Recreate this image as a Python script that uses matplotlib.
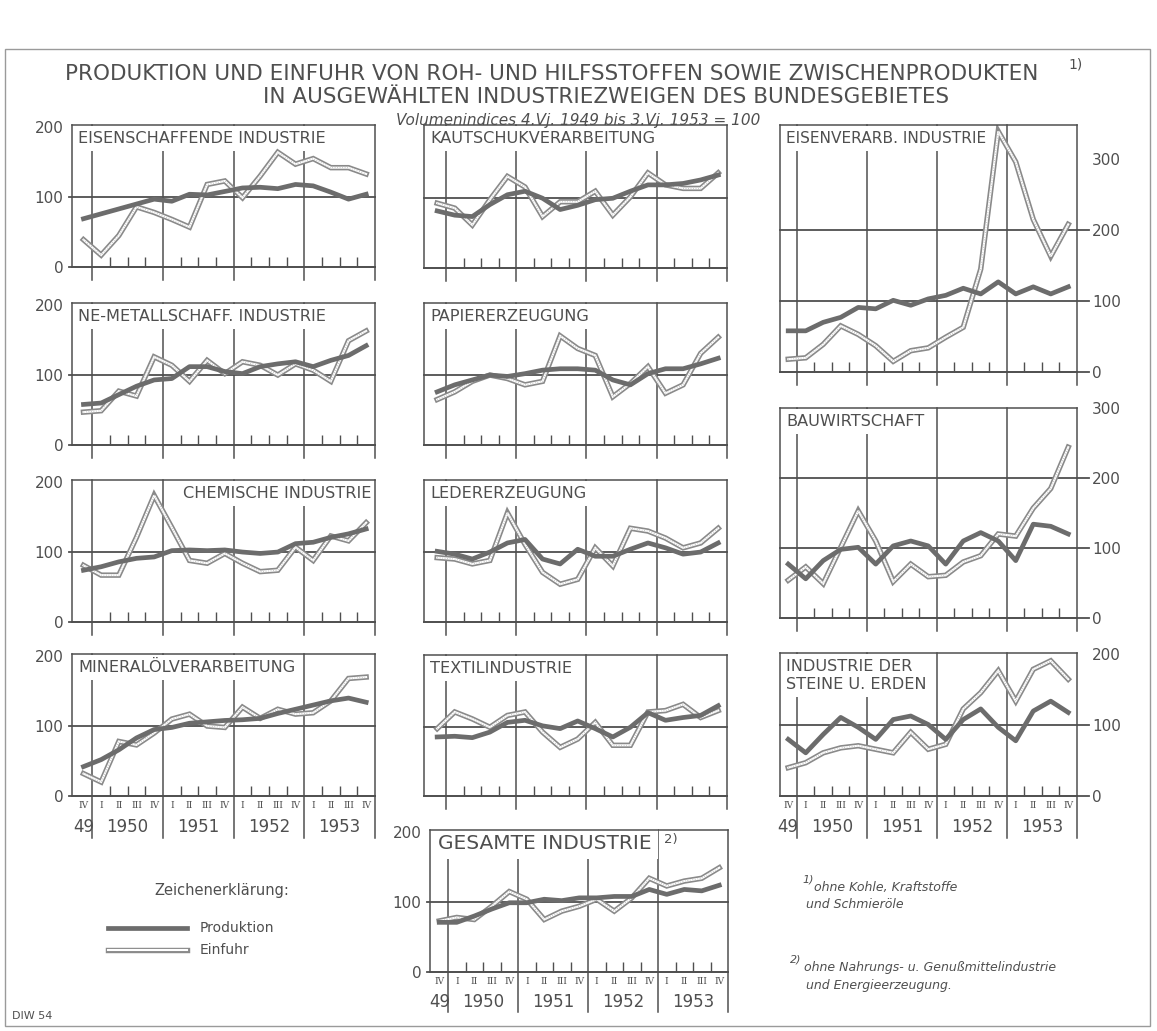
import matplotlib
matplotlib.use("Agg")
import matplotlib.pyplot as plt
import matplotlib.transforms as mtransforms
from matplotlib.lines import Line2D
from matplotlib.patches import Rectangle

W, H = 1157, 1031
INK = "#4f4f4f"
PROD_C = "#6c6c6c"
IMP_C = "#8a8a8a"

# quarters IV/1949 ... IV/1953
quarters = ["IV"] + ["I", "II", "III", "IV"] * 4
years = ["49", "1950", "1951", "1952", "1953"]
year_pos = [0, 2.5, 6.5, 10.5, 14.5]

### values (index 4.Vj.1949-3.Vj.1953 = 100) ###
eisensch_prod = [69, 76, 83, 90, 97, 94, 104, 103, 108, 113, 114, 112, 118, 116, 107, 97, 104]
eisensch_imp = [39, 17, 45, 86, 78, 68, 57, 118, 123, 99, 130, 164, 147, 155, 142, 142, 133]
kaut_prod = [81, 75, 73, 90, 104, 109, 99, 83, 89, 97, 99, 109, 118, 118, 120, 125, 132]
kaut_imp = [92, 85, 61, 97, 130, 115, 73, 94, 94, 109, 75, 101, 135, 118, 113, 113, 135]
eisenv_prod = [58, 58, 70, 77, 91, 89, 101, 94, 103, 108, 118, 110, 127, 110, 120, 110, 120]
eisenv_imp = [18, 20, 39, 65, 53, 37, 15, 30, 34, 49, 63, 145, 339, 296, 215, 163, 208]
ne_prod = [58, 60, 72, 84, 93, 95, 112, 112, 105, 102, 112, 116, 119, 112, 121, 128, 142]
ne_imp = [47, 49, 77, 70, 126, 114, 91, 121, 102, 119, 114, 100, 116, 107, 91, 149, 163]
papier_prod = [76, 86, 93, 100, 98, 102, 107, 109, 109, 107, 93, 86, 102, 109, 109, 116, 124]
papier_imp = [65, 76, 91, 100, 95, 86, 91, 156, 138, 128, 69, 88, 112, 74, 86, 131, 154]
bau_prod = [77, 56, 82, 98, 101, 77, 103, 110, 103, 77, 110, 122, 110, 82, 134, 131, 120]
bau_imp = [54, 73, 49, 101, 153, 110, 52, 77, 59, 61, 80, 89, 120, 117, 157, 185, 244]
chem_prod = [74, 79, 86, 91, 93, 102, 103, 102, 103, 100, 98, 100, 112, 114, 121, 126, 133]
chem_imp = [81, 67, 67, 121, 181, 135, 88, 84, 98, 84, 72, 74, 107, 88, 123, 116, 142]
leder_prod = [101, 97, 90, 100, 113, 118, 90, 83, 104, 94, 94, 104, 113, 106, 97, 100, 113]
leder_imp = [92, 90, 83, 88, 156, 111, 71, 54, 61, 106, 80, 134, 130, 120, 106, 113, 134]
mineral_prod = [42, 52, 66, 83, 95, 98, 104, 106, 108, 109, 111, 118, 124, 130, 136, 140, 134]
mineral_imp = [32, 20, 78, 73, 90, 110, 117, 100, 98, 127, 111, 124, 117, 119, 136, 168, 170]
textil_prod = [85, 86, 84, 92, 106, 109, 101, 97, 108, 97, 85, 99, 120, 109, 113, 116, 130]
textil_imp = [97, 121, 111, 99, 116, 121, 92, 70, 82, 106, 73, 73, 121, 123, 132, 113, 123]
steine_prod = [80, 61, 87, 111, 97, 80, 108, 113, 101, 80, 108, 123, 97, 78, 120, 134, 118]
steine_imp = [40, 47, 61, 68, 71, 66, 61, 90, 66, 73, 123, 146, 177, 134, 179, 191, 165]
gesamt_prod = [71, 71, 80, 90, 99, 99, 104, 102, 106, 106, 108, 108, 118, 111, 118, 116, 124]
gesamt_imp = [73, 78, 75, 94, 115, 104, 75, 87, 94, 104, 87, 106, 134, 123, 130, 134, 149]

plt.rcParams["font.family"] = ["DejaVu Sans"]
fig = plt.figure(figsize=(W / 100, H / 100), dpi=100)
fig.patch.set_facecolor("white")


def T(x, y, s, **kw):
    kw.setdefault("color", INK)
    return fig.text(x / W, 1 - y / H, s, **kw)


def panel(px, ytop, prod, imp, title, ticks=None, side="left", grid=(100,),
          xl=-0.65, below=13, bottom_labels=False, title_kw=None, qoff=10, yoff=31):
    x0, y0, x1, y1 = px
    ax = fig.add_axes([x0 / W, 1 - y1 / H, (x1 - x0) / W, (y1 - y0) / H])
    ax.set_facecolor("none")
    ax.set_xlim(xl, 16.5)
    ax.set_ylim(0, ytop)
    for s in ax.spines.values():
        s.set_color(INK)
        s.set_linewidth(1.1)
        s.set_zorder(6)
    # small quarter ticks
    qb = [k + 0.5 for k in range(1, 16) if k % 4 != 0]
    ax.set_xticks(qb)
    ax.tick_params(axis="x", direction="in", length=7, width=1, color=INK,
                   labelbottom=False)
    if ticks:
        ax.set_yticks(ticks)
        ax.set_yticklabels([str(t) for t in ticks])
        if side == "right":
            ax.yaxis.tick_right()
            ax.tick_params(axis="y", length=0, pad=11, labelsize=11, labelcolor=INK)
        else:
            ax.tick_params(axis="y", length=0, pad=6, labelsize=11, labelcolor=INK)
    else:
        ax.set_yticks([])
    w = x1 - x0
    hgt = y1 - y0
    tr = mtransforms.blended_transform_factory(ax.transAxes, ax.transData)
    lext = 3 / w if side == "left" else 0
    rext = 12 / w if side == "right" else 0
    for g in list(grid) + [0]:
        ax.plot([-lext, 1 + rext], [g, g], transform=tr, color=INK, lw=1.3,
                clip_on=False, zorder=1)
    tv = mtransforms.blended_transform_factory(ax.transData, ax.transAxes)
    for xb in [0.5, 4.5, 8.5, 12.5]:
        ax.plot([xb, xb], [-below / hgt, 1], transform=tv, color=INK, lw=1.1,
                clip_on=False, zorder=1)
    ax.plot([16.5, 16.5], [-below / hgt, 0], transform=tv, color=INK, lw=1.1,
            clip_on=False, zorder=1)

    x = list(range(len(prod)))
    ax.plot(x, imp, color=IMP_C, lw=3.9, zorder=4, solid_joinstyle="miter")
    ax.plot(x, imp, color="white", lw=1.5, zorder=4.2, solid_joinstyle="miter")
    ax.plot(x, imp, color="#b5b5b5", lw=0.6, ls=(0, (1, 2)), zorder=4.3)
    ax.plot(x, prod, color=PROD_C, lw=3.4, zorder=5)

    kw = dict(xy=(0, 1), xycoords="axes fraction", xytext=(6, -6),
              textcoords="offset pixels", ha="left", va="top", fontsize=11.6,
              color=INK, zorder=3,
              bbox=dict(boxstyle="square,pad=0.3", fc="white", ec="none"))
    if title_kw:
        kw.update(title_kw)
    ax.annotate(title, **kw)

    if bottom_labels:
        for i, q in enumerate(quarters):
            ax.annotate(q, xy=(i, 0), xycoords=("data", "axes fraction"),
                        xytext=(0, -qoff), textcoords="offset pixels",
                        ha="center", va="center", fontsize=6.5, color=INK,
                        family="DejaVu Serif")
        for yp, yl in zip(year_pos, years):
            ax.annotate(yl, xy=(yp, 0), xycoords=("data", "axes fraction"),
                        xytext=(0, -yoff), textcoords="offset pixels",
                        ha="center", va="center", fontsize=12, color=INK)
    return ax


# left column
panel((72, 125, 375, 267), 203, eisensch_prod, eisensch_imp,
      "EISENSCHAFFENDE INDUSTRIE", ticks=[0, 100, 200])
panel((72, 303, 375, 445), 203, ne_prod, ne_imp,
      "NE-METALLSCHAFF. INDUSTRIE", ticks=[0, 100, 200])
panel((72, 480, 375, 622), 203, chem_prod, chem_imp,
      "CHEMISCHE INDUSTRIE", ticks=[0, 100, 200],
      title_kw=dict(xy=(1, 1), xytext=(-4, -6), ha="right"))
panel((72, 654, 375, 796), 203, mineral_prod, mineral_imp,
      "MINERALÖLVERARBEITUNG", ticks=[0, 100, 200], below=42, bottom_labels=True)

# middle column
panel((424, 125, 727, 268), 203, kaut_prod, kaut_imp,
      "KAUTSCHUKVERARBEITUNG", side="none", xl=-0.75)
panel((424, 303, 727, 445), 203, papier_prod, papier_imp,
      "PAPIERERZEUGUNG", side="none", xl=-0.75)
panel((424, 480, 727, 622), 203, leder_prod, leder_imp,
      "LEDERERZEUGUNG", side="none", xl=-0.75)
panel((424, 655, 727, 796), 203, textil_prod, textil_imp,
      "TEXTILINDUSTRIE", side="none", xl=-0.75)

# right column
panel((780, 125, 1077, 372), 348, eisenv_prod, eisenv_imp,
      "EISENVERARB. INDUSTRIE", ticks=[0, 100, 200, 300], side="right",
      grid=(100, 200), xl=-0.47, title_kw=dict(fontsize=11.1))
panel((780, 408, 1077, 618), 300, bau_prod, bau_imp,
      "BAUWIRTSCHAFT", ticks=[0, 100, 200, 300], side="right",
      grid=(100, 200), xl=-0.47)
panel((780, 653, 1077, 796), 202, steine_prod, steine_imp,
      "INDUSTRIE DER\nSTEINE U. ERDEN", ticks=[0, 100, 200], side="right",
      xl=-0.47, below=42, bottom_labels=True,
      title_kw=dict(linespacing=1.25))

# total
g = panel((430, 830, 728, 972), 203, gesamt_prod, gesamt_imp,
          "GESAMTE INDUSTRIE", ticks=[0, 100, 200], xl=-0.53, below=40,
          bottom_labels=True, qoff=10, yoff=30,
          title_kw=dict(fontsize=14.5, xytext=(8, -4)))
g.annotate("2)", xy=(0, 1), xycoords="axes fraction", xytext=(234, -3),
           textcoords="offset pixels", ha="left", va="top", fontsize=9.5,
           color=INK, zorder=3)

# headings
T(552, 74, "PRODUKTION UND EINFUHR VON ROH- UND HILFSSTOFFEN SOWIE ZWISCHENPRODUKTEN",
  ha="center", va="center", fontsize=15.5)
T(1068, 65, "1)", ha="left", va="center", fontsize=10)
T(606, 97, "IN AUSGEWÄHLTEN INDUSTRIEZWEIGEN DES BUNDESGEBIETES",
  ha="center", va="center", fontsize=15.5)
T(578, 120, "Volumenindices 4.Vj. 1949 bis 3.Vj. 1953 = 100",
  ha="center", va="center", fontsize=11, style="italic")

# legend
T(222, 890, "Zeichenerklärung:", ha="center", va="center", fontsize=10.5)
fig.add_artist(Line2D([108 / W, 187 / W], [1 - 928 / H, 1 - 928 / H],
                      color=PROD_C, lw=3.4))
for c, lw in [(IMP_C, 3.9), ("white", 1.5)]:
    fig.add_artist(Line2D([108 / W, 187 / W], [1 - 950 / H, 1 - 950 / H],
                          color=c, lw=lw))
T(200, 928, "Produktion", ha="left", va="center", fontsize=10)
T(200, 950, "Einfuhr", ha="left", va="center", fontsize=10)

# footnotes
T(802, 879, "1)", ha="left", va="center", fontsize=8, style="italic")
T(814, 887, "ohne Kohle, Kraftstoffe", ha="left", va="center", fontsize=9, style="italic")
T(806, 905, "und Schmieröle", ha="left", va="center", fontsize=9, style="italic")
T(790, 959, "2)", ha="left", va="center", fontsize=8, style="italic")
T(804, 967, "ohne Nahrungs- u. Genußmittelindustrie", ha="left", va="center",
  fontsize=9, style="italic")
T(806, 985, "und Energieerzeugung.", ha="left", va="center", fontsize=9, style="italic")

T(12, 1016, "DIW 54", ha="left", va="center", fontsize=8)

fig.add_artist(Rectangle((5 / W, 1 - 1026 / H), 1145 / W, 977 / H,
                         fill=False, ec="#9a9a9a", lw=1))

fig.savefig("out.png", dpi=100, facecolor="white")
